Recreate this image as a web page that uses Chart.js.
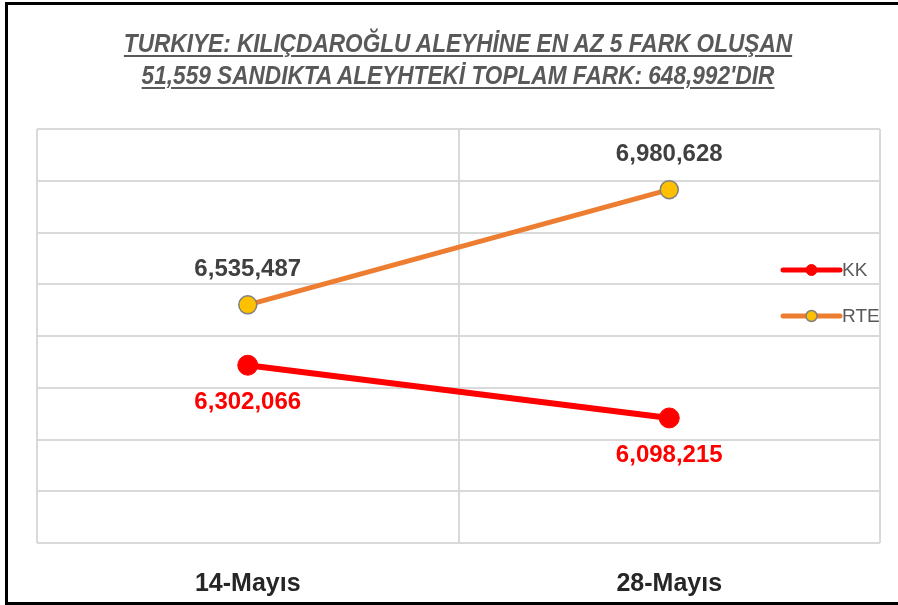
<!DOCTYPE html>
<html>
<head>
<meta charset="utf-8">
<script src="https://cdn.jsdelivr.net/npm/chart.js@4/dist/chart.umd.min.js"></script>
<style>
  html, body { margin: 0; padding: 0; background: #fff; }
  body { width: 898px; height: 605px; position: relative; overflow: hidden; }
  #wrap { position: absolute; left: 0; top: 0; width: 898px; height: 635px; }
  #frame { position: absolute; left: 5px; top: 2px; width: 900px; height: 597px;
           border-left: 3px solid #000; border-top: 3px solid #000; border-bottom: 3px solid #000; pointer-events: none; }
  #title { position: absolute; left: 0; top: 27px; width: 916px; text-align: center;
           font-family: "Liberation Sans", sans-serif; font-style: italic; font-weight: bold;
           font-size: 25px; line-height: 32px; color: #595959; text-decoration: underline; text-underline-offset: 3px;
           text-decoration-thickness: 1.5px; transform: scaleX(0.905); transform-origin: 458px 0; }
</style>
</head>
<body>
<div id="wrap"><canvas id="c" width="898" height="635"></canvas></div>
<div id="title">TURKIYE: KILIÇDAROĞLU ALEYHİNE EN AZ 5 FARK OLUŞAN<br>51,559 SANDIKTA ALEYHTEKİ TOPLAM FARK: 648,992'DIR</div>
<div id="frame"></div>
<script>
const categories = ['14-Mayıs', '28-Mayıs'];
const seriesNames = ['KK', 'RTE'];
const kkValues = [6302066, 6098215];
const rteValues = [6535487, 6980628];
const yMin = 5615000;
const yMax = 7215000;
const yStep = 200000;

const fmt = v => v.toLocaleString('en-US');

const labelPlugin = {
  id: 'pointLabels',
  afterDatasetsDraw(chart) {
    const ctx = chart.ctx;
    ctx.save();
    ctx.font = 'bold 24px "Liberation Sans", sans-serif';
    ctx.textAlign = 'center';
    ctx.textBaseline = 'alphabetic';
    chart.data.datasets.forEach((ds, di) => {
      const meta = chart.getDatasetMeta(di);
      meta.data.forEach((pt, i) => {
        const above = ds.labelPos === 'above';
        ctx.fillStyle = ds.labelColor;
        ctx.fillText(fmt(ds.data[i]), pt.x, above ? pt.y - 29 : pt.y + 44);
      });
    });
    // custom overlay legend
    const lx = 783, lw = 57;
    const ys = [270, 316];
    ctx.font = '19px "Liberation Sans", sans-serif';
    ctx.textAlign = 'left';
    ctx.textBaseline = 'middle';
    chart.data.datasets.forEach((ds, di) => {
      const y = ys[di];
      ctx.strokeStyle = ds.borderColor;
      ctx.lineWidth = 5;
      ctx.lineCap = 'round';
      ctx.beginPath(); ctx.moveTo(lx, y); ctx.lineTo(lx + lw, y); ctx.stroke();
      ctx.beginPath(); ctx.arc(lx + lw / 2, y, 5.5, 0, Math.PI * 2);
      ctx.fillStyle = ds.pointBackgroundColor; ctx.fill();
      ctx.lineWidth = ds.pointBorderWidth; ctx.strokeStyle = ds.pointBorderColor; ctx.stroke();
      ctx.fillStyle = '#595959';
      ctx.fillText(ds.label, lx + lw + 2, y + 1);
    });
    ctx.restore();
  }
};

new Chart(document.getElementById('c'), {
  type: 'line',
  data: {
    labels: categories,
    datasets: [
      {
        label: seriesNames[0], data: kkValues,
        borderColor: '#FF0000', borderWidth: 6,
        pointRadius: 10, pointBackgroundColor: '#FF0000', pointBorderColor: '#FF0000', pointBorderWidth: 1,
        labelColor: '#FF0000', labelPos: 'below'
      },
      {
        label: seriesNames[1], data: rteValues,
        borderColor: '#ED7D31', borderWidth: 5,
        pointRadius: 9, pointBackgroundColor: '#FFC000', pointBorderColor: '#7F7F7F', pointBorderWidth: 1.5,
        labelColor: '#404040', labelPos: 'above'
      }
    ]
  },
  options: {
    responsive: false,
    animation: false,
    layout: { padding: { left: 37, right: 18, top: 129, bottom: 10 } },
    plugins: { legend: { display: false }, title: { display: false }, tooltip: { enabled: false } },
    scales: {
      x: {
        offset: true,
        grid: { offset: true, color: '#D9D9D9', lineWidth: 2, drawTicks: false },
        border: { display: false },
        ticks: { color: '#262626', font: { family: '"Liberation Sans", sans-serif', size: 25, weight: 'bold' }, padding: 26 }
      },
      y: {
        min: yMin, max: yMax,
        ticks: { display: false, stepSize: yStep },
        afterBuildTicks(scale) {
          const t = [];
          for (let v = yMin; v <= yMax + 1; v += yStep) t.push({ value: v });
          scale.ticks = t;
        },
        grid: { color: '#D9D9D9', lineWidth: 2, drawTicks: false },
        border: { display: false }
      }
    }
  },
  plugins: [labelPlugin]
});
</script>
</body>
</html>
